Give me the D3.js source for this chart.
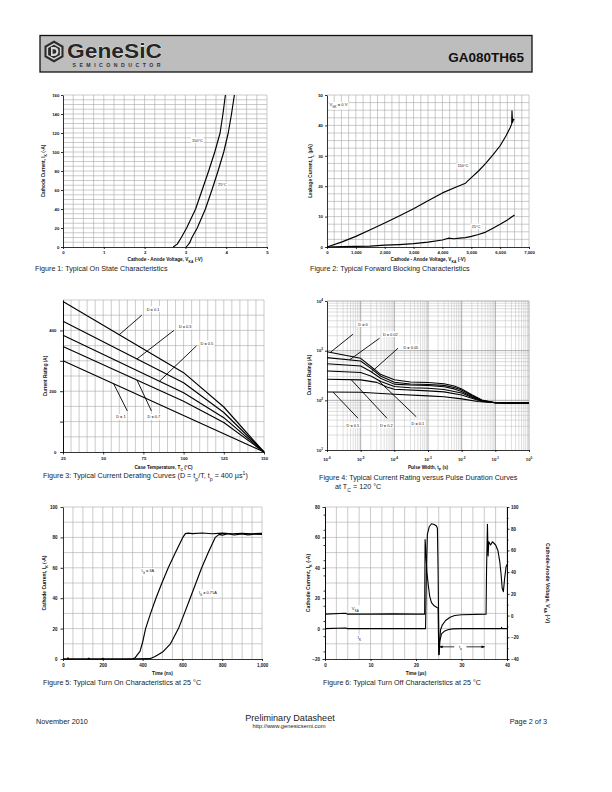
<!DOCTYPE html>
<html><head><meta charset="utf-8">
<script src="https://cdn.jsdelivr.net/npm/d3@7/dist/d3.min.js"></script>
<style>html,body{margin:0;padding:0;background:#fff}svg{display:block}</style>
</head><body>
<script>
// ================= DATA =================
// Figure 1: on-state characteristics [V_KA (-V), I_K (-A)]
const onState150C = [[2.70,0],[2.80,3],[2.90,10],[3.03,20],[3.25,40],[3.41,60],[3.57,80],[3.72,100],[3.85,120],[3.92,140],[3.98,160]];
const onState25C  = [[3.02,0],[3.10,4],[3.16,10],[3.29,20],[3.49,40],[3.65,60],[3.80,80],[3.94,100],[4.05,120],[4.13,140],[4.20,160]];
const fig1XTicks = [0,1,2,3,4,5];
const fig1YTicks = [0,20,40,60,80,100,120,140,160];

// Figure 2: forward blocking [V_KA (-V), I_L (uA)]
const leak150C = [[0,0],[500,1.6],[1000,3.5],[1500,5.7],[2000,7.9],[2500,10.2],[3000,12.6],[3500,15.2],[4000,17.8],[4500,19.8],[4800,21],[5000,22.8],[5250,25],[5500,27.5],[5750,30.3],[6000,33.3],[6200,36.5],[6350,39.3],[6400,40.5],[6410,44.8],[6430,41],[6460,42],[6490,41.8]];
const leak25C  = [[0,0],[500,0.1],[1000,0.2],[1500,0.3],[2000,0.6],[2500,0.8],[3000,1.1],[3500,1.6],[4000,2.3],[4200,2.9],[4400,2.7],[4600,2.9],[4800,3.1],[5000,3.5],[5250,4.1],[5500,4.9],[5750,6.2],[6000,7.5],[6250,8.9],[6500,10.5]];
const fig2XTicks = [0,1000,2000,3000,4000,5000,6000,7000];
const fig2YTicks = [0,10,20,30,40,50];

// Figure 3: current derating [T_C (C)] -> rating (A)
const caseTemps = [25,100,125,150];
const derateD01 = [495,261,148,0];
const derateD03 = [430,228,130,0];
const derateD05 = [384,195,113,0];
const derateD07 = [347,167,97,0];
const derateD1  = [300,120,60,0];
const fig3XTicks = [25,50,75,100,125,150];
const fig3YTicks = [0,200,400];
// label: text, label centre (T, A), pointer start (T, A), pointer end T on its curve
const fig3Labels = [
  {t:"D = 0.1", lx:81, ly:470, sx:74, sy:450, ex:60, curve:"D01"},
  {t:"D = 0.3", lx:101, ly:412, sx:94, sy:400, ex:71, curve:"D03"},
  {t:"D = 0.5", lx:114.5, ly:357, sx:108, sy:349, ex:85, curve:"D05"},
  {t:"D = 1", lx:61, ly:115, sx:65, sy:135, ex:56.5, curve:"D1"},
  {t:"D = 0.7", lx:81.5, ly:115, sx:80, sy:135, ex:71, curve:"D07"}
];

// Figure 4: current rating vs pulse width [t_P (s), A]
const pulseD0   = [[1e-6,955],[1e-5,700],[2e-5,480],[4e-5,330],[1e-4,260],[3e-4,235],[1e-3,228],[3e-3,215],[6e-3,195],[1e-2,170],[2e-2,130],[4e-2,102],[1e-1,89],[1,88]];
const pulseD002 = [[1e-6,725],[1e-5,620],[2e-5,440],[4e-5,305],[1e-4,232],[3e-4,214],[1e-3,208],[3e-3,200],[6e-3,182],[1e-2,162],[2e-2,125],[4e-2,100],[1e-1,89],[1,88]];
const pulseD005 = [[1e-6,545],[1e-5,490],[2e-5,380],[4e-5,275],[1e-4,212],[3e-4,203],[1e-3,198],[3e-3,188],[6e-3,170],[1e-2,150],[2e-2,120],[4e-2,98],[1e-1,89],[1,88]];
const pulseD01  = [[1e-6,390],[1e-5,365],[2e-5,310],[4e-5,240],[1e-4,190],[3e-4,180],[1e-3,175],[3e-3,165],[1e-2,140],[2e-2,115],[4e-2,97],[1e-1,89],[1,88]];
const pulseD02  = [[1e-6,265],[1e-5,258],[3e-5,230],[6e-5,185],[1e-4,167],[1e-3,155],[3e-3,148],[1e-2,128],[2e-2,110],[4e-2,95],[1e-1,89],[1,88]];
const pulseD05  = [[1e-6,147],[1e-5,145],[1e-4,133],[1e-3,123],[3e-3,118],[1e-2,107],[3e-2,95],[1e-1,89],[1,88]];
const fig4XExp = [-6,-5,-4,-3,-2,-1,0];
const fig4YExp = [1,2,3,4];
// label centre and pointer in log10 units
const fig4Labels = [
  {t:"D = 0",    lx:-4.93, ly:3.53, sx:-5.23, sy:3.33, ex:-5.9,  curve:"D0"},
  {t:"D = 0.02", lx:-4.12, ly:3.33, sx:-4.44, sy:3.25, ex:-5.33, curve:"D002"},
  {t:"D = 0.05", lx:-3.51, ly:3.07, sx:-3.89, sy:3.05, ex:-4.68, curve:"D005"},
  {t:"D = 0.5",  lx:-5.23, ly:1.50, sx:-5.08, sy:1.64, ex:-5.82, curve:"D05"},
  {t:"D = 0.2",  lx:-4.24, ly:1.50, sx:-4.22, sy:1.64, ex:-5.28, curve:"D02"},
  {t:"D = 0.1",  lx:-3.30, ly:1.54, sx:-3.35, sy:1.67, ex:-4.51, curve:"D01"}
];

// Figure 5: turn-on [time (ns), I_K (-A)]
const turnOn3A  = [[0,0],[20,0],[25,0.8],[30,0],[125,0],[130,0.6],[135,0],[195,0],[200,0.5],[205,0],[350,0],[362,0.8],[375,3],[387,5],[400,11],[415,20],[440,30],[467,40],[497,50],[529,60],[565,70],[602,80],[615,82.5],[630,82.8],[650,82.5],[700,82.9],[750,82.4],[800,82.8],[850,82.3],[900,82.7],[950,82.4],[1000,82.6]];
const turnOn075A= [[0,0],[300,0],[430,0.2],[445,0.6],[460,1.5],[480,3],[504,5],[540,10],[580,20],[610,30],[639,40],[668,50],[697,60],[730,70],[765,80],[785,82],[800,81.5],[830,82.4],[860,81.6],[900,82.3],[930,81.7],[960,82.2],[1000,81.9]];
const fig5XTicks = [0,200,400,600,800,1000];
const fig5YTicks = [0,20,40,60,80,100];

// Figure 6: turn-off [time (us), I_K (-A)] and [time (us), V_KA (-V)]
const turnOffIk  = [[0,0],[4.5,0.4],[5,0],[10,0],[15,0],[20,0],[22.1,0],[22.3,40],[22.5,62],[22.9,67],[23.4,69],[24.0,68.5],[24.5,67.5],[24.7,66],[24.85,40],[24.95,10],[25.1,-17],[25.25,-8],[25.6,-3.5],[26.2,-1.8],[27,-0.8],[28,-0.2],[30,0],[35,0],[38.7,0],[38.8,0.8],[38.9,0],[40,0]];
const turnOffVka = [[0,1.3],[4.5,2.2],[5,1.3],[10,1.3],[15,1.6],[20,1.3],[21.9,1.3],[22.0,70],[22.15,60],[22.4,40],[22.7,28],[23.0,18],[23.4,12],[24,9],[24.6,7.5],[24.85,7],[25.0,-36],[25.15,-25],[25.4,-13],[25.8,-8.5],[26.5,-4.5],[27.5,-1.5],[28.5,0],[30,0.8],[35.4,1.3],[35.5,40],[35.7,84],[35.85,55],[36.0,68],[36.4,65],[36.8,68],[37.5,65],[38,60],[38.4,50],[38.7,38],[38.95,25],[39.2,22],[39.5,35],[39.8,45],[40,47]];
const fig6XTicks = [0,10,20,30,40];
const fig6YLeftTicks = [-20,0,20,40,60,80];
const fig6YRightTicks = [-40,-20,0,20,40,60,80,100];

// ================= DRAWING =================
const FONT = "'Liberation Sans', Arial, Helvetica, sans-serif";
const CAP = 7.2;
const svg = d3.select("body").append("svg").attr("width",612).attr("height",792).attr("font-family",FONT);
svg.append("rect").attr("width",612).attr("height",792).attr("fill","#fff");
const defs = svg.append("defs");
defs.append("marker").attr("id","arr").attr("viewBox","0 0 10 10").attr("refX",9).attr("refY",5)
  .attr("markerWidth",4.5).attr("markerHeight",4.5).attr("orient","auto")
  .append("path").attr("d","M0,1L10,5L0,9z").attr("fill","#000");

function rich(g,x,y,parts,o={}){
  const size=o.size||5;
  const t=g.append("text").attr("x",x).attr("y",y).attr("font-size",size)
    .attr("text-anchor",o.anchor||"start").attr("fill",o.fill||"#111")
    .attr("font-weight",o.weight||"normal");
  if(o.rotate) t.attr("transform",`rotate(${o.rotate},${x},${y})`);
  if(o.len) t.attr("textLength",o.len).attr("lengthAdjust","spacingAndGlyphs");
  (Array.isArray(parts)?parts:[parts]).forEach(p=>{
    if(typeof p==="string") t.append("tspan").text(p);
    else t.append("tspan").attr("font-size",size*0.72).attr("baseline-shift",p[1]).text(p[0]);
  });
  return t;
}
function labelBox(g,x,y,parts,o={}){
  const t=rich(g,x,y,parts,o);
  const b=t.node().getBBox();
  g.insert("rect",()=>t.node()).attr("x",b.x-1).attr("y",b.y-0.3).attr("width",b.width+2).attr("height",b.height+0.6).attr("fill","#fff");
  return t;
}
function gridLines(g,x,y,xs,ys,col="#a8a8a8",w=0.6){
  const [yb,yt]=y.range(), [xl,xr]=x.range();
  g.append("g").selectAll("line").data(xs).join("line")
    .attr("x1",d=>x(d)).attr("x2",d=>x(d)).attr("y1",yb).attr("y2",yt).attr("stroke",col).attr("stroke-width",w);
  g.append("g").selectAll("line").data(ys).join("line")
    .attr("y1",d=>y(d)).attr("y2",d=>y(d)).attr("x1",xl).attr("x2",xr).attr("stroke",col).attr("stroke-width",w);
}
function axis(g,gen,tx,ty,o={}){
  gen.tickSize(o.ts??2).tickSizeOuter(0).tickPadding(o.pad??1.5);
  const a=g.append("g").attr("transform",`translate(${tx},${ty})`).call(gen);
  a.attr("font-family",FONT).attr("font-size",o.size||4.3).attr("font-weight","bold");
  a.selectAll("text").attr("fill","#111");
  a.selectAll("line,path").attr("stroke","#000").attr("stroke-width",0.8);
  return a;
}
function curve(g,x,y,data,sw=1.15){
  g.append("path").datum(data).attr("d",d3.line().x(d=>x(d[0])).y(d=>y(d[1])))
    .attr("fill","none").attr("stroke","#000").attr("stroke-width",sw).attr("stroke-linejoin","round");
}
function interp(data,xv,logx,logy){
  const fx=logx?Math.log10:(v=>v), fy=logy?Math.log10:(v=>v), iy=logy?(v=>Math.pow(10,v)):(v=>v);
  for(let i=0;i<data.length-1;i++){
    const a=data[i], b=data[i+1];
    if(xv>=a[0]&&xv<=b[0]){ const t=(fx(xv)-fx(a[0]))/(fx(b[0])-fx(a[0])); return iy(fy(a[1])+t*(fy(b[1])-fy(a[1]))); }
  }
  return data[data.length-1][1];
}
function pointer(g,x1,y1,x2,y2){
  g.append("line").attr("x1",x1).attr("y1",y1).attr("x2",x2).attr("y2",y2).attr("stroke","#000").attr("stroke-width",0.9);
}

// ---------- Header ----------
(function(){
  const g=svg.append("g");
  g.append("rect").attr("x",40).attr("y",35.5).attr("width",492).attr("height",36.5)
    .attr("fill","#bdbdbd").attr("stroke","#111").attr("stroke-width",1.3);
  const hex=(cx,cy,r)=>d3.range(6).map(i=>{const a=Math.PI/6+i*Math.PI/3;return [cx+r*Math.cos(a),cy+r*Math.sin(a)];});
  const line=d3.line().curve(d3.curveLinearClosed);
  g.append("path").attr("d",line(hex(54,51.5,11))).attr("fill","#2b2b2b");
  g.append("path").attr("d",line(hex(54,51.5,8.6))).attr("fill","#d0d0d0");
  g.append("path").attr("d",line(hex(54,51.5,6.8))).attr("fill","#2b2b2b");
  g.append("path").attr("d","M51,47 L54,47 A4.5,4.5 0 0 1 54,56 L51,56 Z").attr("fill","#d8d8d8");
  g.append("path").attr("d","M52.6,49.2 L54,49.2 A2.3,2.3 0 0 1 54,53.8 L52.6,53.8 Z").attr("fill","#2b2b2b");
  rich(g,67,58.3,"GeneSiC",{size:20.5,weight:"bold",fill:"#262626",len:95})
    .attr("stroke","#f2f2f2").attr("stroke-width",0.7).attr("paint-order","stroke");
  rich(g,72.5,67.4,"SEMICONDUCTOR",{size:5.2,weight:"bold",fill:"#333"}).attr("textLength",88).attr("lengthAdjust","spacing");
  rich(g,524,62.3,"GA080TH65",{size:13.5,weight:"bold",anchor:"end",fill:"#111"});
})();

// ---------- Figure 1 ----------
(function(){
  const g=svg.append("g");
  const x=d3.scaleLinear().domain([0,5]).range([63,267]);
  const y=d3.scaleLinear().domain([0,160]).range([247,95]);
  gridLines(g,x,y,d3.range(0.25,5.01,0.25),d3.range(5,160.1,5));
  curve(g,x,y,onState150C); curve(g,x,y,onState25C);
  axis(g,d3.axisBottom(x).tickValues(fig1XTicks).tickFormat(d3.format("d")),0,247,{ts:2,pad:2.2});
  axis(g,d3.axisLeft(y).tickValues(fig1YTicks),63,0,{ts:2,pad:1.7});
  labelBox(g,x(3.16),y(111),"150°C",{size:3.9});
  labelBox(g,x(3.8),y(64),"25°C",{size:3.9});
  rich(g,x(2.5),261,["Cathode - Anode Voltage, V",["KA","sub"]," (-V)"],{size:4.7,anchor:"middle",weight:"bold"});
  rich(g,45,171,["Cathode Current, I",["K","sub"]," (-A)"],{size:4.7,anchor:"middle",weight:"bold",rotate:-90});
  rich(g,35,270.5,"Figure 1: Typical On State Characteristics",{size:CAP,fill:"#222"});
})();

// ---------- Figure 2 ----------
(function(){
  const g=svg.append("g");
  const x=d3.scaleLinear().domain([0,7000]).range([327,529]);
  const y=d3.scaleLinear().domain([0,50]).range([247,95]);
  gridLines(g,x,y,d3.range(250,7001,250),d3.range(2.5,50.1,2.5));
  curve(g,x,y,leak150C); curve(g,x,y,leak25C);
  axis(g,d3.axisBottom(x).tickValues(fig2XTicks).tickFormat(d3.format(",")),0,247,{ts:2,pad:2.2});
  axis(g,d3.axisLeft(y).tickValues(fig2YTicks),327,0,{ts:2,pad:2});
  labelBox(g,x(90),y(46.3),["V",["GK","sub"]," = 0 V"],{size:4.1});
  labelBox(g,x(4520),y(26.2),"150°C",{size:3.9});
  labelBox(g,x(5010),y(6.3),"25°C",{size:3.9});
  rich(g,x(3500),261,["Cathode - Anode Voltage, V",["KA","sub"]," (-V)"],{size:4.7,anchor:"middle",weight:"bold"});
  rich(g,311.5,171,["Leakage Current, I",["L","sub"]," (µA)"],{size:4.7,anchor:"middle",weight:"bold",rotate:-90});
  rich(g,310,270.5,"Figure 2: Typical Forward Blocking Characteristics",{size:CAP,fill:"#222"});
})();

// ---------- Figure 3 ----------
(function(){
  const g=svg.append("g");
  const x=d3.scaleLinear().domain([25,150]).range([63,264]);
  const y=d3.scaleLinear().domain([0,500]).range([452,300]);
  gridLines(g,x,y,d3.range(30,150.1,5),d3.range(50,500.1,50));
  const curves={D01:derateD01,D03:derateD03,D05:derateD05,D07:derateD07,D1:derateD1};
  const pairs={};
  Object.keys(curves).forEach(k=>{pairs[k]=caseTemps.map((t,i)=>[t,curves[k][i]]); curve(g,x,y,pairs[k]);});
  axis(g,d3.axisBottom(x).tickValues(fig3XTicks),0,452,{ts:2.5,pad:2.5});
  axis(g,d3.axisLeft(y).tickValues(fig3YTicks),63,0,{ts:3,pad:3.5});
  axis(g,d3.axisLeft(y).tickValues([100,300]).tickFormat(""),63,0,{ts:3});
  fig3Labels.forEach(L=>{
    pointer(g,x(L.sx),y(L.sy),x(L.ex),y(interp(pairs[L.curve],L.ex,false,false)));
  });
  fig3Labels.forEach(L=>{
    labelBox(g,x(L.lx),y(L.ly)+1.4,L.t,{size:3.9,anchor:"middle"});
  });
  rich(g,x(87.5),469,["Case Temperature, T",["C","sub"]," (°C)"],{size:4.7,anchor:"middle",weight:"bold"});
  rich(g,46.5,376,"Current Rating (A)",{size:4.7,anchor:"middle",weight:"bold",rotate:-90});
  rich(g,43,478,["Figure 3: Typical Current Derating Curves (D = t",["p","sub"],"/T, t",["p","sub"]," = 400 µs",["1","super"],")"],{size:CAP,fill:"#222"});
})();

// ---------- Figure 4 ----------
(function(){
  const g=svg.append("g");
  const x=d3.scaleLog().domain([1e-6,1]).range([327,529]);
  const y=d3.scaleLog().domain([10,1e4]).range([450,301]);
  const minor=(e0,e1)=>{const r=[];for(let e=e0;e<e1;e++)for(let k=2;k<=9;k++)r.push(k*Math.pow(10,e));return r;};
  gridLines(g,x,y,minor(-6,0),minor(1,4),"#bdbdbd",0.5);
  gridLines(g,x,y,fig4XExp.slice(1).map(e=>Math.pow(10,e)),fig4YExp.slice(1).map(e=>Math.pow(10,e)),"#8a8a8a",0.7);
  const curves={D0:pulseD0,D002:pulseD002,D005:pulseD005,D01:pulseD01,D02:pulseD02,D05:pulseD05};
  Object.values(curves).forEach(c=>curve(g,x,y,c,1.05));
  axis(g,d3.axisBottom(x).tickValues(fig4XExp.map(e=>Math.pow(10,e))).tickFormat(""),0,450,{ts:2});
  axis(g,d3.axisLeft(y).tickValues(fig4YExp.map(e=>Math.pow(10,e))).tickFormat(""),327,0,{ts:2});
  fig4XExp.forEach(e=>rich(g,x(Math.pow(10,e)),460.5,["10",[String(e),"super"]],{size:4.3,anchor:"middle",weight:"bold"}));
  fig4YExp.forEach(e=>rich(g,323,y(Math.pow(10,e))+1.5,["10",[String(e),"super"]],{size:4.3,anchor:"end",weight:"bold"}));
  fig4Labels.forEach(L=>{
    const ex=Math.pow(10,L.ex);
    pointer(g,x(Math.pow(10,L.sx)),y(Math.pow(10,L.sy)),x(ex),y(interp(curves[L.curve],ex,true,true)));
  });
  fig4Labels.forEach(L=>labelBox(g,x(Math.pow(10,L.lx)),y(Math.pow(10,L.ly))+1.4,L.t,{size:3.9,anchor:"middle"}));
  rich(g,428,469,["Pulse Width, t",["P","sub"]," (s)"],{size:4.7,anchor:"middle",weight:"bold"});
  rich(g,311,375,"Current Rating (A)",{size:4.7,anchor:"middle",weight:"bold",rotate:-90});
  rich(g,319,479.5,"Figure 4:  Typical Current Rating versus Pulse Duration Curves",{size:CAP,fill:"#222"});
  rich(g,335,488.8,["at T",["C","sub"]," = 120 °C"],{size:CAP,fill:"#222"});
})();

// ---------- Figure 5 ----------
(function(){
  const g=svg.append("g");
  const x=d3.scaleLinear().domain([0,1000]).range([63,262]);
  const y=d3.scaleLinear().domain([0,100]).range([659,507]);
  gridLines(g,x,y,d3.range(50,1000.1,50),d3.range(10,100.1,10));
  curve(g,x,y,turnOn3A); curve(g,x,y,turnOn075A);
  axis(g,d3.axisBottom(x).tickValues(fig5XTicks).tickFormat(d3.format(",")),0,659,{ts:2,pad:2.5,size:4.5});
  axis(g,d3.axisLeft(y).tickValues(fig5YTicks),63,0,{ts:2.5,pad:3,size:4.5});
  labelBox(g,x(395),y(57),["I",["G","sub"]," = 3A"],{size:3.9});
  labelBox(g,x(683),y(43),["I",["G","sub"]," = 0.75A"],{size:3.9});
  rich(g,x(500),674.5,"Time (ns)",{size:4.7,anchor:"middle",weight:"bold"});
  rich(g,45.8,583,["Cathode Current, I",["K","sub"]," (-A)"],{size:4.9,anchor:"middle",weight:"bold",rotate:-90});
  rich(g,43,684.5,"Figure 5: Typical Turn On Characteristics at 25 °C",{size:CAP,fill:"#222"});
})();

// ---------- Figure 6 ----------
(function(){
  const g=svg.append("g");
  const x=d3.scaleLinear().domain([0,40]).range([325,507]);
  const yL=d3.scaleLinear().domain([-20,80]).range([659,507]);
  const yR=d3.scaleLinear().domain([-40,100]).range([659,507]);
  gridLines(g,x,yL,d3.range(2.5,40.01,2.5),d3.range(-10,80.1,10));
  curve(g,x,yL,turnOffIk,1.1); curve(g,x,yR,turnOffVka,1.1);
  axis(g,d3.axisBottom(x).tickValues(fig6XTicks),0,659,{ts:2,pad:2.5,size:4.5});
  axis(g,d3.axisLeft(yL).tickValues(fig6YLeftTicks),325,0,{ts:2.5,pad:2.5,size:4.5});
  axis(g,d3.axisLeft(yL).tickValues(d3.range(-15,80,10)).tickFormat(""),325,0,{ts:1.5});
  axis(g,d3.axisRight(yR).tickValues(fig6YRightTicks),507,0,{ts:2.5,pad:1.5,size:4.5});
  axis(g,d3.axisRight(yR).tickValues(d3.range(-30,100,20)).tickFormat(""),507,0,{ts:1.5});
  labelBox(g,x(5.9),yL(12.5),["V",["KA","sub"]],{size:4.3});
  labelBox(g,x(7.2),yL(-6.8),["I",["K","sub"]],{size:4.3});
  const ay=yL(-12);
  g.append("line").attr("x1",x(28.4)).attr("y1",ay).attr("x2",x(25.15)).attr("y2",ay).attr("stroke","#000").attr("stroke-width",0.8).attr("marker-end","url(#arr)");
  g.append("line").attr("x1",x(31.1)).attr("y1",ay).attr("x2",x(35.1)).attr("y2",ay).attr("stroke","#000").attr("stroke-width",0.8).attr("marker-end","url(#arr)");
  labelBox(g,x(29.75),ay+1.4,["t",["q","sub"]],{size:4.3,anchor:"middle"});
  rich(g,x(20),674.5,"Time (µs)",{size:4.7,anchor:"middle",weight:"bold"});
  rich(g,309.5,583,["Cathode Current, I",["K","sub"]," (-A)"],{size:5.2,anchor:"middle",weight:"bold",rotate:-90});
  rich(g,546,583,["Cathode-Anode Voltage, V",["KA","sub"]," (-V)"],{size:5.2,anchor:"middle",weight:"bold",rotate:90});
  rich(g,323,684.5,"Figure 6: Typical Turn Off Characteristics at 25 °C",{size:CAP,fill:"#222"});
})();

// ---------- Footer ----------
(function(){
  const g=svg.append("g");
  rich(g,36,724,"November 2010",{size:7.3,fill:"#222"});
  rich(g,290,720.5,"Preliminary Datasheet",{size:9.1,anchor:"middle",fill:"#222"});
  rich(g,289,727.5,"http://www.genesicsemi.com",{size:5.8,anchor:"middle",fill:"#222"});
  rich(g,547,724,"Page 2 of 3",{size:7.3,anchor:"end",fill:"#222"});
})();
</script>
</body></html>
